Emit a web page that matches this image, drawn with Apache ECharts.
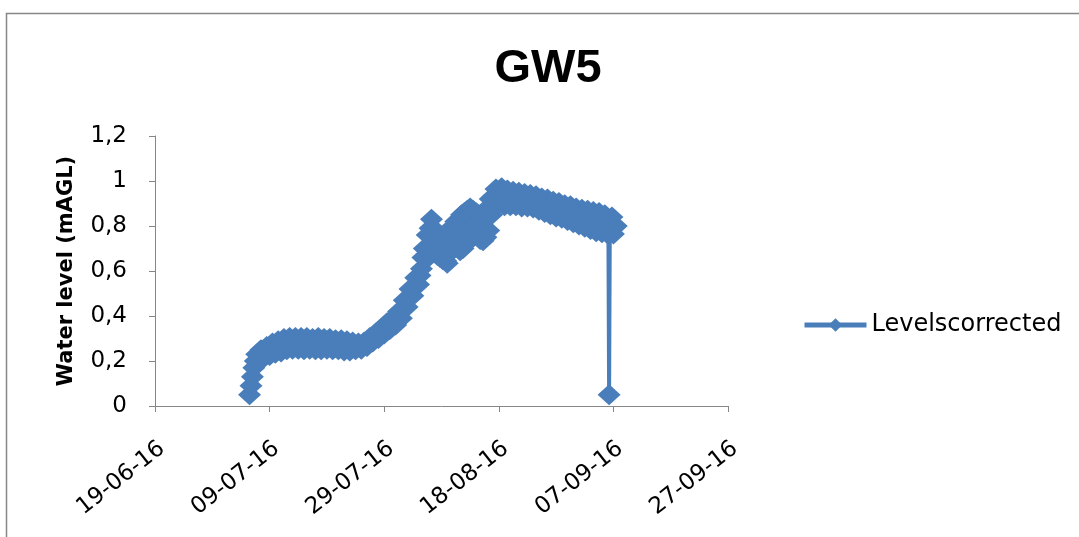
<!DOCTYPE html>
<html>
<head>
<meta charset="utf-8">
<script src="https://cdn.jsdelivr.net/npm/echarts@6/dist/echarts.min.js"></script>
<style>
html,body{margin:0;padding:0;background:#fff;}
#chart{width:1079px;height:537px;}
</style>
</head>
<body>
<div id="chart"></div>
<script>
// ---- data ----
const chartTitle = 'GW5';
const seriesName = 'Levelscorrected';
const yAxisTitle = 'Water level (mAGL)';
const xTickLabels = ['19-06-16', '09-07-16', '29-07-16', '18-08-16', '07-09-16', '27-09-16'];
const yTicks = [0, 0.2, 0.4, 0.6, 0.8, 1, 1.2];

const times = [
  '2016-07-05 12:00','2016-07-05 18:00','2016-07-06 00:00','2016-07-06 06:00','2016-07-06 12:00','2016-07-06 18:00',
  '2016-07-07 00:00','2016-07-07 12:00','2016-07-08 00:00','2016-07-08 12:00','2016-07-09 00:00','2016-07-09 12:00',
  '2016-07-10 00:00','2016-07-10 12:00','2016-07-11 00:00','2016-07-11 12:00','2016-07-12 00:00','2016-07-12 12:00',
  '2016-07-13 00:00','2016-07-13 12:00','2016-07-14 00:00','2016-07-14 12:00','2016-07-15 00:00','2016-07-15 12:00',
  '2016-07-16 00:00','2016-07-16 12:00','2016-07-17 00:00','2016-07-17 12:00','2016-07-18 00:00','2016-07-18 12:00',
  '2016-07-19 00:00','2016-07-19 12:00','2016-07-20 00:00','2016-07-20 12:00','2016-07-21 00:00','2016-07-21 12:00',
  '2016-07-22 00:00','2016-07-22 12:00','2016-07-23 00:00','2016-07-23 12:00','2016-07-24 00:00','2016-07-24 12:00',
  '2016-07-25 00:00','2016-07-25 12:00','2016-07-26 00:00','2016-07-26 12:00','2016-07-27 00:00','2016-07-27 12:00',
  '2016-07-28 00:00','2016-07-28 12:00','2016-07-29 00:00','2016-07-29 12:00','2016-07-30 00:00','2016-07-30 12:00',
  '2016-07-31 00:00','2016-07-31 12:00','2016-08-01 00:00','2016-08-01 12:00','2016-08-02 00:00','2016-08-02 12:00',
  '2016-08-03 00:00','2016-08-03 12:00','2016-08-04 00:00','2016-08-04 06:00','2016-08-04 12:00','2016-08-04 18:00',
  '2016-08-05 00:00','2016-08-05 06:00','2016-08-05 12:00','2016-08-05 18:00','2016-08-06 00:00','2016-08-06 06:00',
  '2016-08-06 12:00','2016-08-06 18:00','2016-08-07 00:00','2016-08-07 06:00','2016-08-07 12:00','2016-08-07 18:00',
  '2016-08-08 00:00','2016-08-08 06:00','2016-08-08 12:00','2016-08-08 18:00','2016-08-09 00:00','2016-08-09 06:00',
  '2016-08-09 12:00','2016-08-09 18:00','2016-08-10 00:00','2016-08-10 06:00','2016-08-10 12:00','2016-08-10 18:00',
  '2016-08-11 00:00','2016-08-11 06:00','2016-08-11 12:00','2016-08-11 18:00','2016-08-12 00:00','2016-08-12 06:00',
  '2016-08-12 12:00','2016-08-12 18:00','2016-08-13 00:00','2016-08-13 06:00','2016-08-13 12:00','2016-08-13 18:00',
  '2016-08-14 00:00','2016-08-14 06:00','2016-08-14 12:00','2016-08-14 18:00','2016-08-15 00:00','2016-08-15 06:00',
  '2016-08-15 12:00','2016-08-15 18:00','2016-08-16 00:00','2016-08-16 06:00','2016-08-16 12:00','2016-08-16 18:00',
  '2016-08-17 00:00','2016-08-17 12:00','2016-08-18 00:00','2016-08-18 12:00','2016-08-19 00:00','2016-08-19 12:00',
  '2016-08-20 00:00','2016-08-20 12:00','2016-08-21 00:00','2016-08-21 12:00','2016-08-22 00:00','2016-08-22 12:00',
  '2016-08-23 00:00','2016-08-23 12:00','2016-08-24 00:00','2016-08-24 12:00','2016-08-25 00:00','2016-08-25 12:00',
  '2016-08-26 00:00','2016-08-26 12:00','2016-08-27 00:00','2016-08-27 12:00','2016-08-28 00:00','2016-08-28 12:00',
  '2016-08-29 00:00','2016-08-29 12:00','2016-08-30 00:00','2016-08-30 12:00','2016-08-31 00:00','2016-08-31 12:00',
  '2016-09-01 00:00','2016-09-01 12:00','2016-09-02 00:00','2016-09-02 12:00','2016-09-03 00:00','2016-09-03 12:00',
  '2016-09-04 00:00','2016-09-04 12:00','2016-09-05 00:00','2016-09-05 12:00','2016-09-06 00:00','2016-09-06 03:00',
  '2016-09-06 06:00','2016-09-06 09:00','2016-09-06 18:00','2016-09-07 00:00','2016-09-07 12:00'
];
const levels = [
  0.05, 0.09, 0.13, 0.17, 0.20, 0.23,
  0.20, 0.25, 0.215, 0.265, 0.225, 0.28,
  0.235, 0.29, 0.24, 0.30, 0.25, 0.305,
  0.252, 0.305, 0.252, 0.305, 0.25, 0.305,
  0.252, 0.30, 0.25, 0.305, 0.25, 0.30,
  0.252, 0.30, 0.25, 0.295, 0.25, 0.295,
  0.245, 0.29, 0.245, 0.285, 0.25, 0.28,
  0.252, 0.285, 0.265, 0.305, 0.285, 0.325,
  0.30, 0.345, 0.32, 0.37, 0.34, 0.39,
  0.36, 0.42, 0.39, 0.47, 0.44, 0.52,
  0.49, 0.57, 0.54, 0.58, 0.61, 0.66,
  0.70, 0.65, 0.76, 0.69, 0.79, 0.83,
  0.76, 0.70, 0.78, 0.67, 0.76, 0.66,
  0.74, 0.65, 0.72, 0.645, 0.635, 0.68,
  0.75, 0.69, 0.80, 0.70, 0.82, 0.72,
  0.83, 0.69, 0.85, 0.70, 0.86, 0.72,
  0.87, 0.74, 0.88, 0.76, 0.87, 0.80,
  0.86, 0.76, 0.85, 0.74, 0.84, 0.735,
  0.86, 0.75, 0.88, 0.78, 0.92, 0.85,
  0.93, 0.965, 0.90, 0.97, 0.89, 0.96,
  0.89, 0.955, 0.89, 0.95, 0.885, 0.945,
  0.885, 0.94, 0.88, 0.935, 0.87, 0.925,
  0.86, 0.92, 0.85, 0.91, 0.84, 0.905,
  0.835, 0.895, 0.825, 0.89, 0.815, 0.88,
  0.805, 0.875, 0.795, 0.87, 0.785, 0.865,
  0.775, 0.86, 0.77, 0.85, 0.765, 0.79,
  0.05, 0.81, 0.84, 0.765, 0.80
];

// ---- helpers ----
const DAY = 86400000;
const ORIGIN = Date.UTC(2016, 5, 19);
function toDays(s) {
  const [d, t] = s.split(' ');
  const [Y, M, D] = d.split('-').map(Number);
  const [h, m] = t.split(':').map(Number);
  return (Date.UTC(Y, M - 1, D, h, m) - ORIGIN) / DAY;
}
const points = times.map((t, i) => [toDays(t), levels[i]]);

const blue = '#4A7EBB';
const axisGray = '#868686';
const FONT = 'DejaVu Sans';

const chart = echarts.init(document.getElementById('chart'), null, {renderer: 'canvas'});
chart.setOption({
  animation: false,
  backgroundColor: '#fff',
  graphic: [{
    type: 'rect', left: 4, top: 11, silent: true,
    shape: {x: 0, y: 0, width: 1100, height: 600},
    style: {fill: 'none', stroke: axisGray, lineWidth: 1.5}
  }],
  title: {
    text: chartTitle,
    left: 543, top: 41, textAlign: 'center',
    textStyle: {fontFamily: 'Liberation Sans', fontWeight: 'bold', fontSize: 47, color: '#000'}
  },
  legend: {
    data: [seriesName],
    left: 797, top: 308, orient: 'vertical',
    itemWidth: 62, itemHeight: 17,
    lineStyle: {width: 5},
    textStyle: {fontFamily: FONT, fontSize: 24, color: '#000'}
  },
  grid: {left: 155, right: 351, top: 136, bottom: 131, containLabel: false},
  xAxis: {
    type: 'value', min: 0, max: 100, interval: 20,
    axisLine: {show: true, onZero: false, lineStyle: {color: axisGray, width: 1}},
    axisTick: {show: true, length: 6, lineStyle: {color: axisGray}},
    splitLine: {show: false},
    axisLabel: {
      rotate: 38, margin: 31, align: 'right', verticalAlign: 'top',
      color: '#000', fontFamily: FONT, fontSize: 23,
      formatter: v => xTickLabels[Math.round(v / 20)]
    }
  },
  yAxis: {
    type: 'value', min: yTicks[0], max: yTicks[yTicks.length - 1], interval: 0.2,
    name: yAxisTitle, nameLocation: 'middle', nameGap: 78, nameRotate: 90,
    nameTextStyle: {fontFamily: FONT, fontWeight: 'bold', fontSize: 21, color: '#000'},
    axisLine: {show: true, lineStyle: {color: axisGray, width: 1}},
    axisTick: {show: true, length: 6, lineStyle: {color: axisGray}},
    splitLine: {show: false},
    axisLabel: {
      margin: 28, color: '#000', fontFamily: FONT, fontSize: 23,
      formatter: v => String(+v.toFixed(1)).replace('.', ',')
    }
  },
  series: [{
    name: seriesName, type: 'line', data: points,
    symbol: 'diamond', symbolSize: [23, 21], showSymbol: true,
    itemStyle: {color: blue},
    lineStyle: {color: blue, width: 4},
    clip: false
  }]
});
</script>
</body>
</html>
